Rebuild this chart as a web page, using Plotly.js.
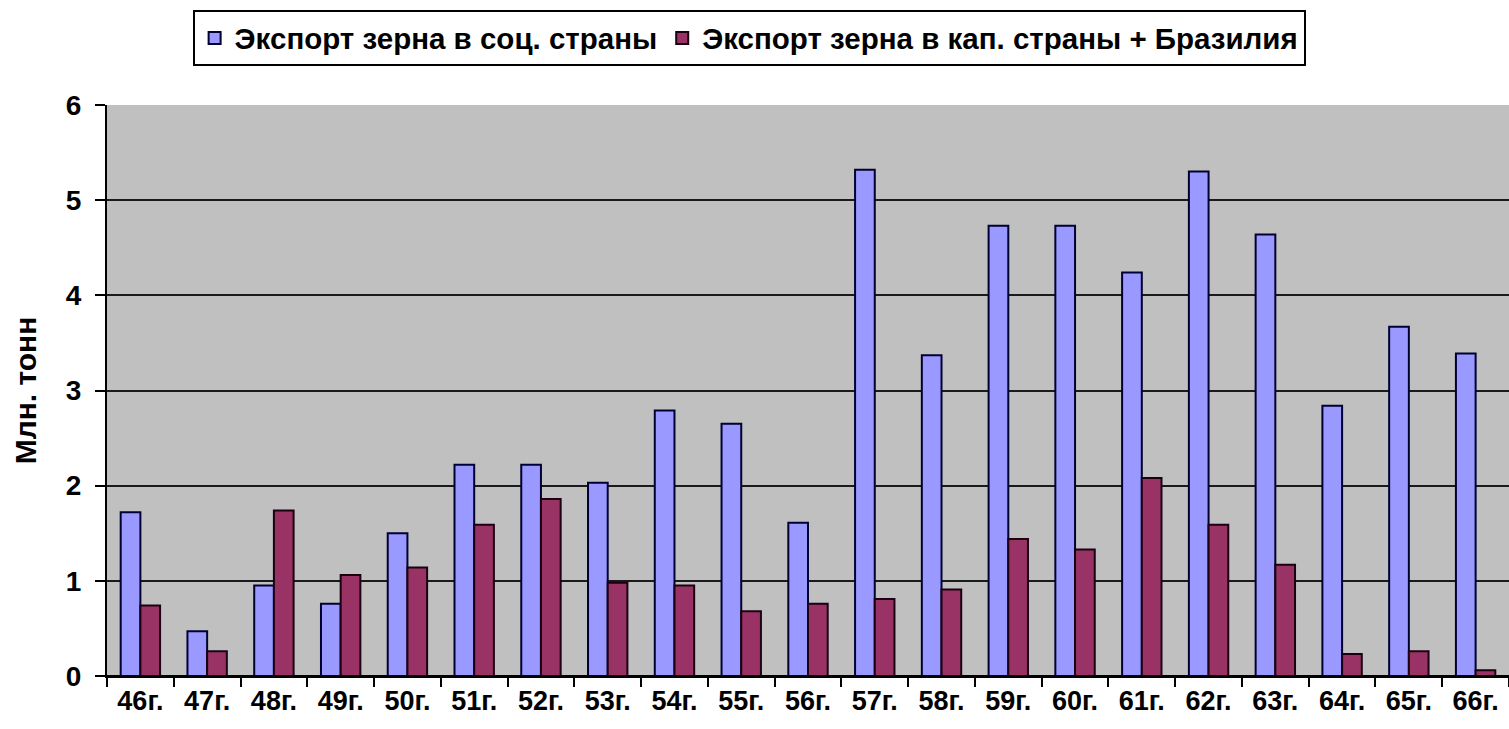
<!DOCTYPE html>
<html>
<head>
<meta charset="utf-8">
<script src="https://cdn.plot.ly/plotly-3.0.1.min.js"></script>
<style>
  html, body { margin: 0; padding: 0; background: #fff; }
  #chart { width: 1509px; height: 729px; }
</style>
</head>
<body>
<div id="chart"></div>
<script>
// подписи по оси X (годы)
const years = ['46г.', '47г.', '48г.', '49г.', '50г.', '51г.', '52г.', '53г.', '54г.', '55г.', '56г.',
  '57г.', '58г.', '59г.', '60г.', '61г.', '62г.', '63г.', '64г.', '65г.', '66г.'];

// экспорт в соц. страны, млн. тонн
const socExport = [1.72, 0.47, 0.95, 0.76, 1.50, 2.22, 2.22, 2.03, 2.79, 2.65, 1.61,
  5.32, 3.37, 4.73, 4.73, 4.24, 5.30, 4.64, 2.84, 3.67, 3.39];

// экспорт в кап. страны + Бразилия, млн. тонн
const capExport = [0.74, 0.26, 1.74, 1.06, 1.14, 1.59, 1.86, 0.98, 0.95, 0.68, 0.76,
  0.81, 0.91, 1.44, 1.33, 2.08, 1.59, 1.17, 0.23, 0.26, 0.06];

const yTicks = [0, 1, 2, 3, 4, 5, 6];

const fontFam = 'Arial, "Liberation Sans", sans-serif';

const traceSoc = {
  type: 'bar',
  x: years,
  y: socExport,
  name: 'Экспорт зерна в соц. страны',
  marker: { color: '#9999FF', line: { color: '#000033', width: 2 } },
  hoverinfo: 'x+y'
};

const traceCap = {
  type: 'bar',
  x: years,
  y: capExport,
  name: 'Экспорт зерна в кап. страны + Бразилия',
  marker: { color: '#993366', line: { color: '#1a0010', width: 2 } },
  hoverinfo: 'x+y'
};

const layout = {
  width: 1509,
  height: 729,
  margin: { l: 107, r: 0, t: 105, b: 53, pad: 0 },
  paper_bgcolor: '#FFFFFF',
  plot_bgcolor: '#C0C0C0',
  barmode: 'group',
  bargap: 0.41,
  bargroupgap: 0,
  font: { family: fontFam, color: '#000', weight: 'bold' },
  showlegend: true,
  legend: {
    orientation: 'h',
    x: 0.458,
    xanchor: 'center',
    y: 1.166,
    yanchor: 'top',
    bgcolor: '#FFFFFF',
    bordercolor: '#000000',
    borderwidth: 2,
    font: { size: 29.5, family: fontFam, weight: 'bold' },
    itemwidth: 30,
    traceorder: 'normal'
  },
  xaxis: {
    type: 'category',
    tickson: 'boundaries',
    ticks: 'outside',
    ticklen: 9,
    tickwidth: 2,
    tickcolor: '#000',
    showline: true,
    linecolor: '#000',
    linewidth: 2,
    showgrid: false,
    tickfont: { size: 27, family: fontFam, weight: 'bold' },
    fixedrange: true
  },
  yaxis: {
    range: [0, 6],
    tickvals: yTicks,
    ticktext: yTicks.map(String),
    ticks: 'outside',
    ticklen: 10,
    tickwidth: 2,
    tickcolor: '#000',
    ticklabelstandoff: 8,
    showline: true,
    linecolor: '#000',
    linewidth: 2,
    showgrid: true,
    gridcolor: '#1a1a1a',
    gridwidth: 2,
    zeroline: true,
    zerolinecolor: '#000',
    zerolinewidth: 2,
    tickfont: { size: 28, family: fontFam, weight: 'bold' },
    title: { text: 'Млн. тонн', font: { size: 30, family: fontFam, weight: 'bold' }, standoff: 20 },
    fixedrange: true
  }
};

Plotly.newPlot('chart', [traceSoc, traceCap], layout, { displayModeBar: false, staticPlot: true });
</script>
</body>
</html>
